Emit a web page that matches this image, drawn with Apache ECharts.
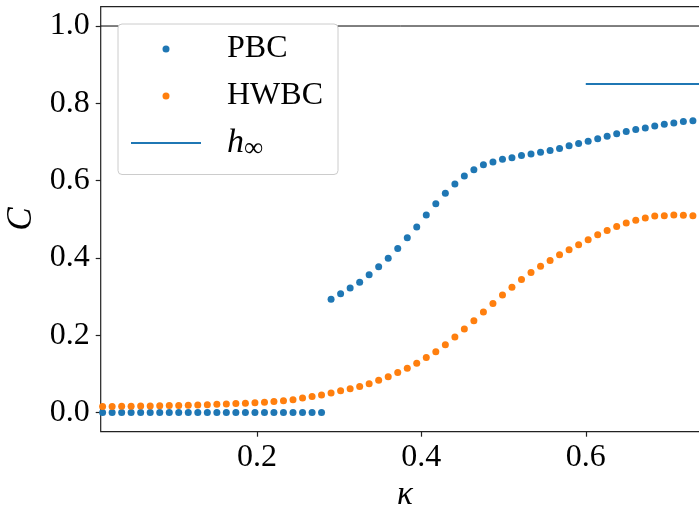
<!DOCTYPE html>
<html>
<head>
<meta charset="utf-8">
<script src="https://cdn.jsdelivr.net/npm/echarts@6/dist/echarts.min.js"></script>
<style>
  html, body { margin: 0; padding: 0; background: #fff; }
  #chart { width: 699px; height: 510px; }
</style>
</head>
<body>
<div id="chart"></div>
<script>
// Coupling strength sampled along the horizontal axis
const kappa = [
  0.0123, 0.0239, 0.0355, 0.0470, 0.0586, 0.0702, 0.0818, 0.0934, 0.1049, 0.1165,
  0.1281, 0.1397, 0.1513, 0.1628, 0.1744, 0.1860, 0.1976, 0.2092, 0.2207, 0.2323,
  0.2439, 0.2555, 0.2671, 0.2786, 0.2902, 0.3018, 0.3134, 0.3250, 0.3365, 0.3481,
  0.3597, 0.3713, 0.3829, 0.3944, 0.4060, 0.4176, 0.4292, 0.4408, 0.4523, 0.4639,
  0.4755, 0.4871, 0.4987, 0.5102, 0.5218, 0.5334, 0.5450, 0.5566, 0.5681, 0.5797,
  0.5913, 0.6029, 0.6145, 0.6260, 0.6376, 0.6492, 0.6608, 0.6724, 0.6839, 0.6955,
  0.7071, 0.7187, 0.7303
];

// C for periodic boundary conditions
const pbc = [
  0, 0, 0, 0, 0, 0, 0, 0, 0, 0,
  0, 0, 0, 0, 0, 0, 0, 0, 0, 0,
  0, 0, 0, 0, 0.293, 0.307, 0.322, 0.337, 0.356, 0.377,
  0.399, 0.424, 0.452, 0.480, 0.511, 0.540, 0.567, 0.591, 0.612, 0.628,
  0.641, 0.648, 0.655, 0.659, 0.665, 0.669, 0.673, 0.678, 0.683, 0.690,
  0.696, 0.702, 0.708, 0.715, 0.721, 0.727, 0.732, 0.736, 0.741, 0.746,
  0.749, 0.753, 0.755
];

// C for hard-wall boundary conditions
const hwbc = [
  0.0155, 0.0155, 0.0158, 0.0160, 0.0163, 0.0166, 0.0170, 0.0175, 0.0180, 0.0186,
  0.0193, 0.0200, 0.0208, 0.0217, 0.0227, 0.0238, 0.0250, 0.0265, 0.0280, 0.0300,
  0.033, 0.037, 0.041, 0.045, 0.050, 0.056, 0.061, 0.067, 0.074, 0.083,
  0.092, 0.103, 0.114, 0.127, 0.142, 0.157, 0.175, 0.195, 0.216, 0.237,
  0.260, 0.282, 0.304, 0.324, 0.344, 0.362, 0.378, 0.393, 0.408, 0.421,
  0.434, 0.447, 0.460, 0.471, 0.481, 0.490, 0.497, 0.503, 0.508, 0.509,
  0.511, 0.510, 0.509
];

// Asymptotic value h_inf, drawn from kappa = 0.6 onward
const hInf = 0.85;
const hInfStart = 0.6;

// Axis ranges and tick labels
const xRange = [0.01, 0.75];
const yRange = [-0.05, 1.05];
const xTicks = [0.2, 0.4, 0.6];
const yTicks = [0.0, 0.2, 0.4, 0.6, 0.8, 1.0];

const FONT = '"Liberation Serif", "DejaVu Serif", serif';
const INK = '#222';

const chart = echarts.init(document.getElementById('chart'), null, { renderer: 'canvas' });

const pbcData = kappa.map((k, i) => [k, pbc[i]]);
const hwbcData = kappa.map((k, i) => [k, hwbc[i]]);

const option = {
  animation: false,
  backgroundColor: '#fff',
  grid: {
    left: 100.7, top: 6.7, right: -10.1, bottom: 78.3,
    containLabel: false, outerBoundsMode: 'none',
    show: true, borderColor: INK, borderWidth: 1.2, backgroundColor: 'transparent'
  },
  xAxis: {
    type: 'value', min: xRange[0], max: xRange[1],
    name: 'κ', nameLocation: 'middle', nameGap: 42,
    nameTextStyle: { fontFamily: FONT, fontStyle: 'italic', fontSize: 33, color: '#000' },
    axisLine: { show: false, onZero: false },
    splitLine: { show: false },
    axisTick: { show: true, customValues: xTicks, length: 5, lineStyle: { color: INK, width: 1.2 } },
    axisLabel: { customValues: xTicks, formatter: v => v.toFixed(1), fontFamily: FONT, fontSize: 32, color: '#000', margin: 10 }
  },
  yAxis: {
    type: 'value', min: yRange[0], max: yRange[1],
    name: 'C', nameLocation: 'middle', nameGap: 55,
    nameTextStyle: { fontFamily: FONT, fontStyle: 'italic', fontSize: 35, color: '#000' },
    axisLine: { show: false, onZero: false },
    splitLine: { show: false },
    axisTick: { show: true, customValues: yTicks, length: 5, lineStyle: { color: INK, width: 1.2 } },
    axisLabel: { customValues: yTicks, formatter: v => v.toFixed(1), fontFamily: FONT, fontSize: 32, color: '#000', margin: 11 }
  },
  legend: {
    left: 118, top: 24, orient: 'vertical',
    backgroundColor: '#fff', borderColor: '#cccccc', borderWidth: 1, borderRadius: 4,
    padding: [6.5, 14, 12, 12],
    itemWidth: 70, itemHeight: 7, itemGap: 10,
    selectedMode: false,
    textStyle: {
      fontFamily: FONT, fontSize: 32, color: '#000', lineHeight: 37, width: 97,
      padding: [0, 0, 0, 21],
      rich: {
        i: { fontFamily: FONT, fontStyle: 'italic', fontSize: 34, color: '#000' },
        s: { fontFamily: FONT, fontSize: 27, color: '#000', padding: [12, 0, 0, 0] }
      }
    },
    formatter: name => (name === 'h∞' ? '{i|h}{s|∞}' : name),
    data: [
      { name: 'PBC' },
      { name: 'HWBC' },
      { name: 'h∞', itemStyle: { opacity: 0 } }
    ]
  },
  series: [
    {
      name: 'PBC', type: 'scatter', data: pbcData, symbolSize: 7,
      itemStyle: { color: '#1f77b4', opacity: 1 }, z: 3
    },
    {
      name: 'HWBC', type: 'scatter', data: hwbcData, symbolSize: 7,
      itemStyle: { color: '#ff7f0e', opacity: 1 }, z: 3
    },
    {
      name: 'h∞', type: 'line', data: [[hInfStart, hInf], [xRange[1], hInf]],
      symbol: 'none', lineStyle: { color: '#1f77b4', width: 2 }, itemStyle: { color: '#1f77b4' }, z: 2
    },
    {
      name: 'C = 1', type: 'line', data: [[xRange[0], 1], [xRange[1], 1]],
      symbol: 'none', silent: true, lineStyle: { color: '#000', width: 1 }, z: 1
    }
  ]
};

chart.setOption(option);
</script>
</body>
</html>
